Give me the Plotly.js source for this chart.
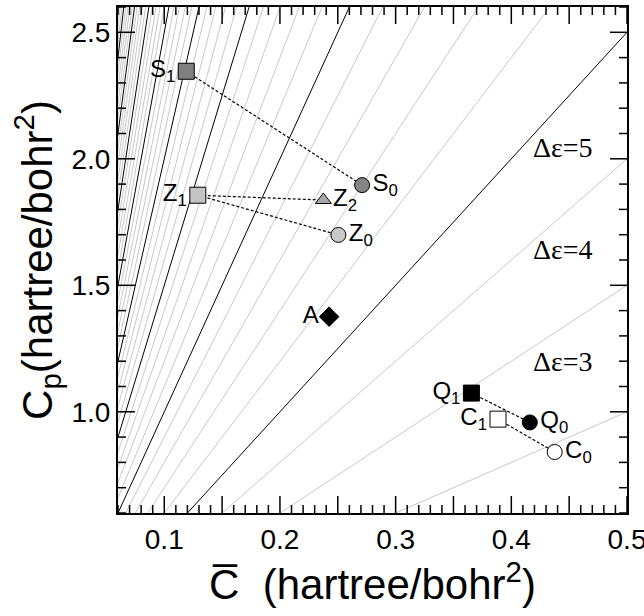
<!DOCTYPE html>
<html>
<head>
<meta charset="utf-8">
<script src="https://cdn.plot.ly/plotly-3.0.1.min.js"></script>
<style>html,body{margin:0;padding:0;background:#fff;}#chart{width:644px;height:616px;}</style>
</head>
<body>
<div id="chart"></div>
<script>
// Reference lines: Cp = k * Cbar, k = 2..43 (black every 5)
const slopes = [2,3,4,5,6,7,8,9,10,11,12,13,14,15,16,17,18,19,20,21,22,23,24,25,26,27,28,29,30,31,32,33,34,35,36,37,38,39,40,41,42,43];
const lineXEnds = [0, 0.5];

// Points
const names   = ['S1','S0','Z1','Z2','Z0','A','Q1','Q0','C1','C0'];
const texts   = ['S<sub>1</sub>','S<sub>0</sub>','Z<sub>1</sub>','Z<sub>2</sub>','Z<sub>0</sub>','A','Q<sub>1</sub>','Q<sub>0</sub>','C<sub>1</sub>','C<sub>0</sub>'];
const cbar    = [0.119, 0.271, 0.129, 0.2375, 0.2505, 0.2425, 0.3655, 0.416, 0.3885, 0.4375];
const cp      = [2.346, 1.896, 1.856, 1.837, 1.699, 1.376, 1.074, 0.958, 0.971, 0.841];
const symbols = ['square','circle','square','triangle-up','circle','diamond','square','circle','square','circle'];
const fills   = ['#808080','#858585','#c4c4c4','#a8a8a8','#c8c8c8','#000000','#000000','#000000','#ffffff','#ffffff'];
const sizes   = [16,15,16,14,15,15,16,15,16,15];
const textpos = ['middle left','middle right','middle left','middle right','middle right','middle left','middle left','middle right','middle left','middle right'];

// Dashed connections
const links = [['S1','S0'],['Z1','Z2'],['Z1','Z0'],['Q1','Q0'],['C1','C0']];

// Δε labels
const deLabels = ['Δε=5','Δε=4','Δε=3'];
const deX = [0.445, 0.445, 0.445];
const deY = [2.046, 1.64, 1.197];

// Axis ranges and tick labels
const xRange = [0.06, 0.5];
const yRange = [0.6, 2.6];
const xTickVals = [0.1, 0.2, 0.3, 0.4, 0.5];
const xTickText = ['0.1', '0.2', '0.3', '0.4', '0.5'];
const yTickVals = [1.0, 1.5, 2.0, 2.5];
const yTickText = ['1.0', '1.5', '2.0', '2.5'];

const W = 644, H = 616;
const M = {l: 118, r: 17, t: 7, b: 103};
const pxPerX = (W - M.l - M.r) / (xRange[1] - xRange[0]);
const pxPerY = (H - M.t - M.b) / (yRange[1] - yRange[0]);

const traces = [];
slopes.forEach(k => {
  traces.push({
    x: lineXEnds, y: lineXEnds.map(v => v * k), mode: 'lines', type: 'scatter',
    line: {color: k % 5 === 0 ? '#000000' : '#c8c8c8', width: 1}, hoverinfo: 'skip', showlegend: false
  });
});
links.forEach(([a, b]) => {
  const i = names.indexOf(a), j = names.indexOf(b);
  traces.push({
    x: [cbar[i], cbar[j]], y: [cp[i], cp[j]], mode: 'lines', type: 'scatter',
    line: {color: '#000', width: 1.2, dash: '3px,2px'}, showlegend: false
  });
});

// Inside tick marks on all four sides (minor every 0.01 / 0.1, long every 0.05 / 0.5)
const tkX = [], tkY = [];
for (let i = 6; i <= 50; i++) {
  const v = i / 100, len = ((i % 5 === 0) ? 17 : 8) / pxPerY;
  tkX.push(v, v, null, v, v, null);
  tkY.push(yRange[0], yRange[0] + len, null, yRange[1], yRange[1] - len, null);
}
for (let i = 6; i <= 26; i++) {
  const v = i / 10, len = ((i % 5 === 0) ? 17 : 8) / pxPerX;
  tkX.push(xRange[0], xRange[0] + len, null, xRange[1], xRange[1] - len, null);
  tkY.push(v, v, null, v, v, null);
}
traces.push({x: tkX, y: tkY, mode: 'lines', type: 'scatter', connectgaps: false, hoverinfo: 'skip', showlegend: false,
  line: {color: '#000', width: 1.5}});

traces.push({
  x: cbar, y: cp, mode: 'markers+text', type: 'scatter', text: texts, textposition: textpos,
  textfont: {family: 'Liberation Sans, Arial, sans-serif', size: 24, color: '#000'},
  marker: {symbol: symbols, color: fills, size: sizes, opacity: 1, line: {color: '#000', width: 1}},
  showlegend: false
});

const annotations = deLabels.map((t, i) => ({
  x: deX[i], y: deY[i], xref: 'x', yref: 'y', text: t, showarrow: false,
  font: {family: 'Liberation Serif, Times New Roman, serif', size: 28, color: '#000'}
}));

const axisFont = {family: 'Liberation Sans, Arial, sans-serif', size: 28, color: '#000'};
const titleFont = {family: 'Liberation Sans, Arial, sans-serif', size: 42, color: '#000'};
const layout = {
  width: W, height: H,
  margin: M,
  showlegend: false,
  xaxis: {
    range: xRange, tickmode: 'array', tickvals: xTickVals, ticktext: xTickText,
    ticks: '', showline: true, linewidth: 2, linecolor: '#000', mirror: true,
    showgrid: false, zeroline: false, tickfont: axisFont, ticklabeloverflow: 'allow',
    title: {text: 'C\u0305  (hartree/bohr<sup>2</sup>)', font: titleFont, standoff: 10}
  },
  yaxis: {
    range: yRange, tickmode: 'array', tickvals: yTickVals, ticktext: yTickText,
    ticks: '', showline: true, linewidth: 2, linecolor: '#000', mirror: true,
    showgrid: false, zeroline: false, tickfont: axisFont, ticklabeloverflow: 'allow',
    title: {text: 'C<sub>p</sub>(hartree/bohr<sup>2</sup>)', font: titleFont, standoff: 6}
  },
  annotations: annotations
};

Plotly.newPlot('chart', traces, layout, {displayModeBar: false, staticPlot: true});
</script>
</body>
</html>
